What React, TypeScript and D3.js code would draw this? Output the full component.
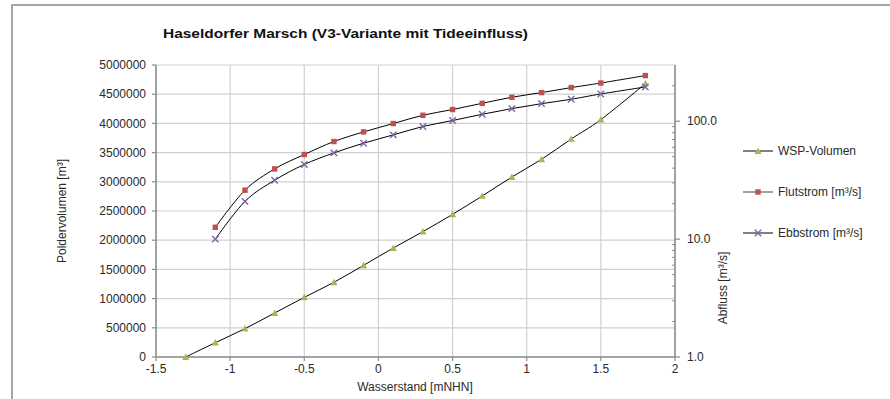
import React from "react";
import * as d3 from "d3";

// Wasserstand (mNHN) for each measured state
const wasserstand = [-1.3, -1.1, -0.9, -0.7, -0.5, -0.3, -0.1, 0.1, 0.3, 0.5, 0.7, 0.9, 1.1, 1.3, 1.5, 1.8];
// Poldervolumen [m³] (left axis)
const wspVolumen = [0, 245000, 486000, 753000, 1022000, 1279000, 1570000, 1866000, 2147000, 2443000, 2757000, 3082000, 3385000, 3733000, 4065000, 4680000];
// Abfluss [m³/s] (right, logarithmic axis); no discharge at -1.3
const flutstrom = [null, 12.6, 26.0, 39.4, 52.2, 67.3, 81.2, 95.6, 112.4, 125.7, 142, 159.8, 175, 193, 211, 244];
const ebbstrom = [null, 10.0, 20.9, 31.6, 43.0, 53.9, 65.1, 76.6, 90.2, 101.4, 114.6, 128, 141, 153.6, 170.4, 195.3];

const xTicks = [-1.5, -1, -0.5, 0, 0.5, 1, 1.5, 2];
const leftTicks = [0, 500000, 1000000, 1500000, 2000000, 2500000, 3000000, 3500000, 4000000, 4500000, 5000000];
const rightMajor = [1, 10, 100];
const rightMinor = [2, 3, 4, 5, 6, 7, 8, 9, 20, 30, 40, 50, 60, 70, 80, 90, 200];

const title = "Haseldorfer Marsch (V3-Variante mit Tideeinfluss)";
const seriesNames = ["WSP-Volumen", "Flutstrom [m³/s]", "Ebbstrom [m³/s]"];

const FONT = "'Liberation Sans', Arial, sans-serif";
const TEXT = "#2a2a2a";
const GRID = "#d0d0d0";
const AXIS = "#8c8c8c";
const GREEN = "#9bbb59";
const RED = "#c0504d";
const PURPLE = "#8064a2";

const x = d3.scaleLinear().domain([-1.5, 2]).range([156, 675]);
const yL = d3.scaleLinear().domain([0, 5000000]).range([357, 65]);
const yR = d3.scaleLog().domain([1, 300]).range([357, 65]);

type Pt = [number, number];

function Triangle({ cx, cy }: { cx: number; cy: number }) {
  const s = 3.6;
  return <path d={`M${cx},${cy - s}L${cx + s},${cy + s * 0.8}L${cx - s},${cy + s * 0.8}Z`} fill={GREEN} />;
}
function Square({ cx, cy }: { cx: number; cy: number }) {
  return <rect x={cx - 2.7} y={cy - 2.7} width={5.4} height={5.4} fill={RED} />;
}
function Cross({ cx, cy }: { cx: number; cy: number }) {
  const s = 3.2;
  return (
    <path
      d={`M${cx - s},${cy - s}L${cx + s},${cy + s}M${cx - s},${cy + s}L${cx + s},${cy - s}`}
      stroke={PURPLE}
      strokeWidth={1.4}
      fill="none"
    />
  );
}

export default function App() {
  const line = d3.line<Pt>().x((d) => d[0]).y((d) => d[1]).curve(d3.curveCardinal.tension(0));

  const wspPts: Pt[] = wasserstand.map((w, i) => [x(w), yL(wspVolumen[i])]);
  const flutPts: Pt[] = wasserstand
    .map((w, i) => (flutstrom[i] == null ? null : ([x(w), yR(flutstrom[i] as number)] as Pt)))
    .filter((p): p is Pt => p !== null);
  const ebbPts: Pt[] = wasserstand
    .map((w, i) => (ebbstrom[i] == null ? null : ([x(w), yR(ebbstrom[i] as number)] as Pt)))
    .filter((p): p is Pt => p !== null);

  const [x0, x1] = x.range();
  const [yb, yt] = yL.range();

  const legendY = [151, 192, 233];

  return (
    <svg
      width={890}
      height={399}
      style={{ position: "absolute", left: 0, top: 0, background: "#fff" }}
      fontFamily={FONT}
    >
      {/* chart frame */}
      <path d="M12,420V5H900" fill="none" stroke="#a6a6a6" strokeWidth={2} />

      <text
        x={163}
        y={38}
        fontSize={13.5}
        fontWeight="bold"
        fill="#111"
        textLength={365}
        lengthAdjust="spacingAndGlyphs"
      >
        {title}
      </text>

      {/* gridlines */}
      {leftTicks.map((t) => (
        <line key={"h" + t} x1={x0} x2={x1} y1={yL(t)} y2={yL(t)} stroke={GRID} strokeWidth={1.2} />
      ))}
      {xTicks.map((t) => (
        <line key={"v" + t} x1={x(t)} x2={x(t)} y1={yb} y2={yt} stroke={GRID} strokeWidth={1.2} />
      ))}

      {/* axes */}
      <line x1={x0} x2={x0} y1={yt} y2={yb} stroke={AXIS} strokeWidth={1.5} />
      <line x1={x1} x2={x1} y1={yt} y2={yb} stroke={AXIS} strokeWidth={1.5} />
      <line x1={x0} x2={x1} y1={yb} y2={yb} stroke={AXIS} strokeWidth={1.5} />

      {/* left axis */}
      {leftTicks.map((t) => (
        <g key={"l" + t}>
          <line x1={x0 - 4} x2={x0} y1={yL(t)} y2={yL(t)} stroke={AXIS} strokeWidth={1.2} />
          <text x={146} y={yL(t)} dy="0.35em" textAnchor="end" fontSize={12} fill={TEXT}>
            {String(t)}
          </text>
        </g>
      ))}

      {/* bottom axis */}
      {xTicks.map((t) => (
        <g key={"b" + t}>
          <line x1={x(t)} x2={x(t)} y1={yb} y2={yb + 4} stroke={AXIS} strokeWidth={1.2} />
          <text x={x(t)} y={yb + 16} textAnchor="middle" fontSize={12} fill={TEXT}>
            {String(t)}
          </text>
        </g>
      ))}

      {/* right log axis */}
      {rightMinor.map((t) => (
        <line key={"rm" + t} x1={x1 - 3} x2={x1} y1={yR(t)} y2={yR(t)} stroke={AXIS} strokeWidth={1} />
      ))}
      {rightMajor.map((t) => (
        <g key={"rM" + t}>
          <line x1={x1} x2={x1 + 5} y1={yR(t)} y2={yR(t)} stroke={AXIS} strokeWidth={1.2} />
          <text x={687} y={yR(t)} dy="0.35em" fontSize={12} fill={TEXT}>
            {t.toFixed(1)}
          </text>
        </g>
      ))}

      {/* axis titles */}
      <text x={415} y={391} textAnchor="middle" fontSize={12} fill={TEXT}>
        Wasserstand [mNHN]
      </text>
      <text transform="translate(66,211) rotate(-90)" textAnchor="middle" fontSize={12} fill={TEXT}>
        Poldervolumen [m³]
      </text>
      <text transform="translate(727,288) rotate(-90)" textAnchor="middle" fontSize={12} fill={TEXT}>
        Abfluss [m³/s]
      </text>

      {/* series */}
      <path d={line(wspPts) ?? ""} fill="none" stroke="#000" strokeWidth={1} />
      {wspPts.map((p, i) => (
        <Triangle key={"w" + i} cx={p[0]} cy={p[1]} />
      ))}
      <path d={line(flutPts) ?? ""} fill="none" stroke="#000" strokeWidth={1} />
      {flutPts.map((p, i) => (
        <Square key={"f" + i} cx={p[0]} cy={p[1]} />
      ))}
      <path d={line(ebbPts) ?? ""} fill="none" stroke="#000" strokeWidth={1} />
      {ebbPts.map((p, i) => (
        <Cross key={"e" + i} cx={p[0]} cy={p[1]} />
      ))}

      {/* legend */}
      {seriesNames.map((name, i) => (
        <g key={name}>
          <line x1={743} x2={773} y1={legendY[i]} y2={legendY[i]} stroke={i === 1 ? "#444" : "#000"} strokeWidth={1} />
          {i === 0 && <Triangle cx={758} cy={legendY[i]} />}
          {i === 1 && <Square cx={758} cy={legendY[i]} />}
          {i === 2 && <Cross cx={758} cy={legendY[i]} />}
          <text x={778} y={legendY[i]} dy="0.35em" fontSize={12} fill={TEXT}>
            {name}
          </text>
        </g>
      ))}
    </svg>
  );
}
